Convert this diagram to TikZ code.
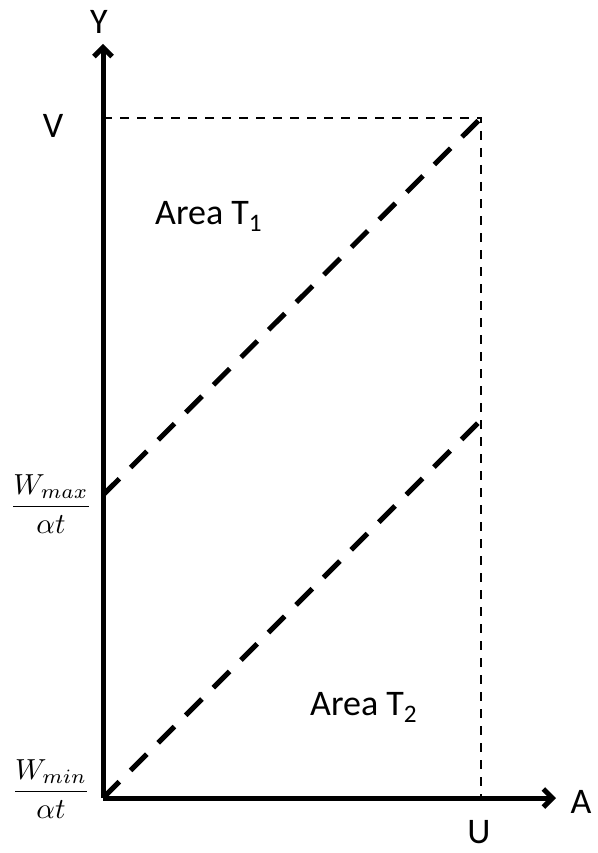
\documentclass[tikz,border=0pt]{standalone}
\usepackage{amsmath}
\usepackage{fontspec}
\setmainfont{Carlito}
\usetikzlibrary{arrows.meta}

\begin{document}
\begin{tikzpicture}[x=1pt,y=-1pt,>={Straight Barb[length=9pt,width=18pt]},
 axis/.style={line width=5pt,->},
 guide/.style={line width=1.8pt,dash pattern=on 9pt off 8pt},
 border/.style={line width=5pt,dash pattern=on 23pt off 16pt},
 lab/.style={font=\fontsize{36}{40}\selectfont,inner sep=0pt},
 frac/.style={scale=2.9,transform shape,inner sep=0pt}]
\useasboundingbox (0,0) rectangle (597,853);
\coordinate (o) at (103,798);
\coordinate (ytop) at (103,44);
\coordinate (xend) at (556,798);
\coordinate (v) at (103,118);
\coordinate (c) at (481,118);
\coordinate (u) at (481,798);
\coordinate (wmax) at (103,495);
\coordinate (e) at (481,420);
\draw[guide] (v) -- (c) -- (u);
\draw[border] (wmax) -- (c);
\draw[border] (o) -- (e);
\draw[axis] (o) -- (ytop);
\draw[axis] (o) -- (xend);
\node[lab] (ylab) at (99,22) {Y};
\node[lab] (alab) at (581,802) {A};
\node[lab] (vlab) at (53,126) {V};
\node[lab] (ulab) at (479,832) {U};
\node[lab,anchor=base west] (t1) at (155,224) {Area T\textsubscript{1}};
\node[lab,anchor=base west] (t2) at (310,715) {Area T\textsubscript{2}};
\node[frac] (fmax) at (51,504) {$\dfrac{W_{max}}{\alpha t}$};
\node[frac] (fmin) at (51,789) {$\dfrac{W_{min}}{\alpha t}$};
\end{tikzpicture}
\end{document}
